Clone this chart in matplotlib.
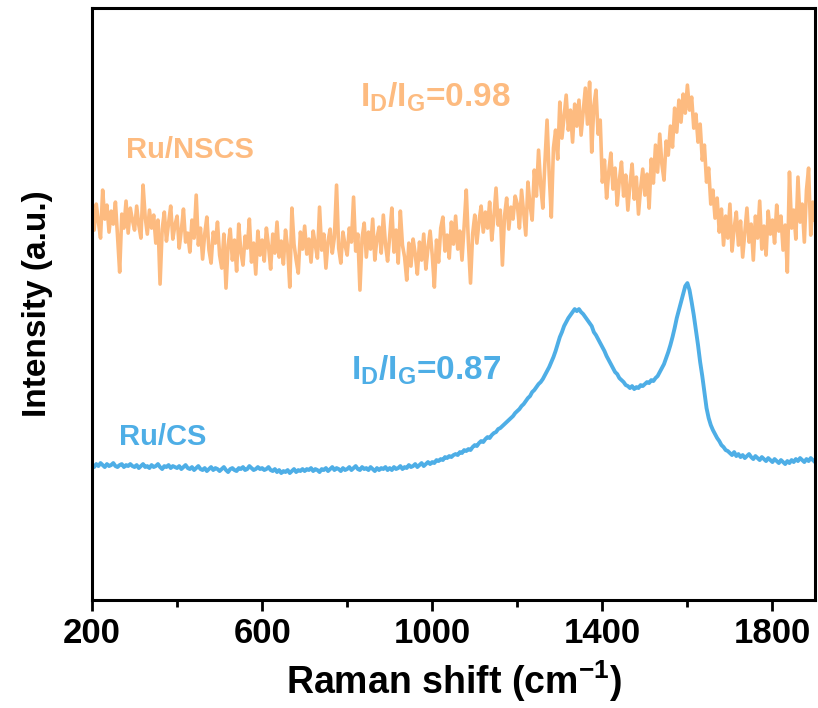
import matplotlib.pyplot as plt
import numpy as np

plt.rcParams['font.family'] = ['Liberation Sans', 'DejaVu Sans']
plt.rcParams['mathtext.fontset'] = 'custom'
plt.rcParams['mathtext.rm'] = 'Liberation Sans:bold'
plt.rcParams['mathtext.bf'] = 'Liberation Sans:bold'

# Raman shift grid, 5 cm-1 step
shift = np.arange(200, 1901, 5)

# Ru/NSCS spectrum (a.u.)
ru_nscs = [
    384, 370, 396, 378, 362, 410, 381, 395, 368, 389, 376, 398, 364, 328, 386, 372, 399, 367, 392, 380,
    370, 394, 375, 362, 415, 383, 366, 390, 372, 385, 357, 380, 316, 371, 388, 359, 377, 394, 361, 375,
    384, 352, 370, 391, 358, 367, 348, 380, 362, 405, 355, 372, 341, 366, 383, 350, 337, 368, 357, 378,
    345, 332, 366, 312, 355, 371, 340, 360, 329, 376, 348, 335, 364, 352, 381, 338, 357, 326, 369, 345,
    360, 339, 372, 354, 331, 366, 347, 378, 343, 359, 336, 370, 352, 313, 392, 356, 340, 327, 368, 351,
    374, 346, 361, 338, 369, 355, 342, 393, 350, 366, 332, 359, 371, 347, 363, 415, 352, 337, 368, 355,
    345, 372, 358, 403, 349, 366, 310, 362, 377, 343, 368, 351, 381, 340, 362, 373, 347, 385, 356, 339,
    364, 392, 348, 370, 337, 389, 355, 343, 320, 357, 334, 361, 346, 326, 358, 340, 366, 331, 352, 369,
    345, 313, 360, 338, 372, 383, 349, 365, 342, 378, 356, 384, 351, 369, 340, 374, 410, 358, 317, 366,
    385, 357, 379, 394, 368, 388, 372, 398, 360, 383, 412, 375, 390, 335, 384, 402, 371, 393, 381, 404,
    396, 372, 410, 388, 365, 418, 395, 380, 430, 404, 450, 415, 392, 438, 480, 426, 383, 452, 470, 441,
    498, 462, 484, 505, 470, 490, 458, 496, 474, 500, 465, 488, 512, 476, 518, 448, 494, 510, 466, 480,
    418, 440, 402, 428, 447, 411, 432, 395, 420, 438, 404, 425, 390, 416, 436, 401, 423, 386, 412, 431,
    405, 426, 392, 441, 417, 455, 428, 466, 436, 420, 459, 445, 474, 453, 492, 468, 500, 478, 506, 487,
    515, 490, 503, 472, 486, 458, 476, 440, 455, 418, 432, 396, 410, 382, 402, 368, 391, 355, 384, 362,
    396, 349, 372, 388, 355, 379, 343, 367, 392, 358, 376, 340, 384, 362, 399, 351, 374, 345, 389, 366,
    380, 357, 395, 369, 384, 350, 375, 328, 428, 372, 390, 361, 423, 378, 396, 358, 410, 432, 365, 398,
    380,
]

# Ru/CS spectrum (a.u.)
ru_cs = [
    135, 133, 136, 134, 137, 135, 133, 136, 134, 135, 137, 134, 133, 135, 136, 133, 135, 134, 136, 134,
    133, 135, 132, 134, 136, 133, 134, 132, 135, 133, 134, 136, 133, 131, 134, 133, 135, 132, 134, 133,
    132, 134, 131, 133, 135, 132, 131, 133, 130, 132, 134, 131, 130, 132, 129, 131, 133, 130, 132, 131,
    129, 131, 133, 130, 128, 131, 132, 130, 129, 132, 131, 133, 130, 131, 134, 132, 130, 131, 133, 131,
    132, 130, 131, 133, 130, 129, 131, 128, 130, 127, 129, 128, 130, 127, 129, 131, 128, 130, 129, 131,
    129, 131, 130, 132, 129, 131, 130, 128, 131, 130, 132, 129, 131, 133, 130, 132, 131, 129, 132, 130,
    131, 133, 130, 132, 134, 131, 130, 133, 131, 132, 130, 133, 131, 129, 132, 130, 132, 131, 133, 130,
    132, 130, 133, 131, 132, 134, 131, 133, 132, 135, 133, 134, 136, 133, 135, 137, 134, 136, 138, 136,
    138, 137, 140, 139, 141, 140, 143, 142, 144, 143, 145, 146, 145, 148, 147, 150, 149, 151, 150, 153,
    155, 154, 157, 159, 158, 161, 163, 162, 165, 167, 168, 171, 172, 174, 176, 178, 180, 182, 184, 187,
    189, 191, 194, 196, 199, 202, 204, 208, 210, 213, 216, 218, 221, 225, 229, 233, 238, 243, 249, 256,
    263, 268, 274, 278, 282, 285, 288, 291, 289, 291, 288, 286, 283, 280, 277, 274, 268, 265, 261, 257,
    253, 249, 244, 240, 236, 232, 228, 226, 222, 220, 218, 215, 214, 212, 214, 211, 213, 212, 215, 214,
    216, 218, 217, 220, 219, 222, 224, 228, 232, 236, 242, 248, 255, 263, 272, 282, 290, 298, 306, 314,
    317, 310, 298, 285, 270, 255, 238, 224, 208, 192, 182, 175, 170, 166, 162, 159, 155, 153, 150, 149,
    147, 145, 148, 144, 146, 143, 145, 142, 144, 146, 143, 141, 144, 142, 140, 143, 141, 139, 142, 140,
    138, 141, 139, 137, 140, 138, 136, 139, 137, 140, 138, 141, 139, 142, 140, 138, 141, 139, 142, 140,
    138,
]

major_ticks = [200, 600, 1000, 1400, 1800]
minor_ticks = [400, 800, 1200, 1600]

orange = '#fdbb80'
blue = '#4eaee6'

fig = plt.figure(figsize=(8.18, 7.08), dpi=100)
ax = fig.add_axes([0.1125, 0.1525, 0.8838, 0.836])

ax.plot(shift, ru_nscs, color=orange, lw=2.6)
ax.plot(shift, ru_cs, color=blue, lw=2.8)

ax.text(280, 450, 'Ru/NSCS', color=orange, fontsize=21, fontweight='bold', va='center')
ax.text(830, 503, r'I$_\mathbf{D}$/I$_\mathbf{G}$=0.98', color=orange, fontsize=24, fontweight='bold', va='center')
ax.text(810, 230, r'I$_\mathbf{D}$/I$_\mathbf{G}$=0.87', color=blue, fontsize=24, fontweight='bold', va='center')
ax.text(264, 163, 'Ru/CS', color=blue, fontsize=21, fontweight='bold', va='center')

ax.set_xlim(200, 1900)
ax.set_ylim(0, 592)
ax.set_xticks(major_ticks)
ax.set_xticks(minor_ticks, minor=True)
ax.set_yticks([])
ax.tick_params(axis='x', which='major', direction='out', length=8, width=2, labelsize=25, pad=4)
ax.tick_params(axis='x', which='minor', direction='out', length=5, width=2)
for lbl in ax.get_xticklabels():
    lbl.set_fontweight('bold')
for sp in ax.spines.values():
    sp.set_linewidth(2.2)

ax.set_xlabel('Raman shift (cm$^{\\mathbf{-1}}$)', fontsize=27, fontweight='bold', labelpad=6)
ax.set_ylabel('Intensity (a.u.)', fontsize=24, fontweight='bold', labelpad=28)

fig.savefig('out.png', dpi=100)
